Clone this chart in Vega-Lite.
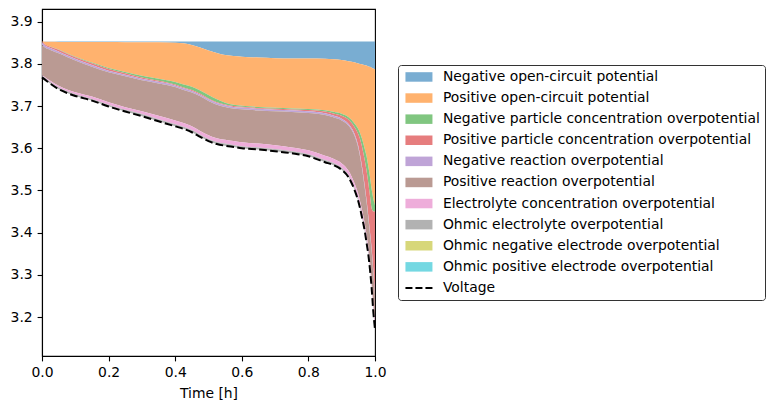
{
  "$schema": "https://vega.github.io/schema/vega-lite/v6.json",
  "description": "Voltage components over a discharge",
  "width": 333,
  "height": 347,
  "autosize": {"type": "none"},
  "padding": {"left": 42, "top": 9, "right": 400, "bottom": 53},
  "background": "white",
  "data": {
    "values": [
      {"t": 0, "b0": 3.853, "b1": 3.853, "b2": 3.853, "b3": 3.853, "b4": 3.851, "b5": 3.845, "b6": 3.773, "b7": 3.772, "v": 3.768},
      {"t": 0.01, "b0": 3.853, "b1": 3.8525, "b2": 3.846, "b3": 3.846, "b4": 3.843, "b5": 3.838, "b6": 3.768, "b7": 3.766, "v": 3.762},
      {"t": 0.025, "b0": 3.853, "b1": 3.8522, "b2": 3.841, "b3": 3.8407, "b4": 3.8377, "b5": 3.8332, "b6": 3.76, "b7": 3.757, "v": 3.753},
      {"t": 0.05, "b0": 3.853, "b1": 3.852, "b2": 3.834, "b3": 3.8335, "b4": 3.8295, "b5": 3.825, "b6": 3.748, "b7": 3.744, "v": 3.74},
      {"t": 0.075, "b0": 3.853, "b1": 3.852, "b2": 3.825, "b3": 3.8243, "b4": 3.8203, "b5": 3.8163, "b6": 3.7395, "b7": 3.735, "v": 3.731},
      {"t": 0.1, "b0": 3.853, "b1": 3.852, "b2": 3.817, "b3": 3.816, "b4": 3.812, "b5": 3.808, "b6": 3.733, "b7": 3.728, "v": 3.724},
      {"t": 0.15, "b0": 3.853, "b1": 3.852, "b2": 3.803, "b3": 3.8015, "b4": 3.7975, "b5": 3.7935, "b6": 3.7225, "b7": 3.717, "v": 3.713},
      {"t": 0.2, "b0": 3.853, "b1": 3.8518, "b2": 3.79, "b3": 3.788, "b4": 3.784, "b5": 3.78, "b6": 3.709, "b7": 3.703, "v": 3.699},
      {"t": 0.25, "b0": 3.853, "b1": 3.8515, "b2": 3.781, "b3": 3.778, "b4": 3.7745, "b5": 3.7705, "b6": 3.6975, "b7": 3.691, "v": 3.687},
      {"t": 0.3, "b0": 3.853, "b1": 3.8512, "b2": 3.772, "b3": 3.768, "b4": 3.765, "b5": 3.761, "b6": 3.688, "b7": 3.681, "v": 3.676},
      {"t": 0.35, "b0": 3.853, "b1": 3.851, "b2": 3.765, "b3": 3.76, "b4": 3.7575, "b5": 3.7535, "b6": 3.677, "b7": 3.669, "v": 3.664},
      {"t": 0.4, "b0": 3.853, "b1": 3.85, "b2": 3.757, "b3": 3.751, "b4": 3.749, "b5": 3.745, "b6": 3.666, "b7": 3.657, "v": 3.652},
      {"t": 0.425, "b0": 3.853, "b1": 3.849, "b2": 3.751, "b3": 3.744, "b4": 3.742, "b5": 3.738, "b6": 3.66, "b7": 3.651, "v": 3.646},
      {"t": 0.45, "b0": 3.853, "b1": 3.845, "b2": 3.746, "b3": 3.738, "b4": 3.736, "b5": 3.732, "b6": 3.652, "b7": 3.643, "v": 3.638},
      {"t": 0.475, "b0": 3.853, "b1": 3.839, "b2": 3.737, "b3": 3.729, "b4": 3.727, "b5": 3.723, "b6": 3.641, "b7": 3.632, "v": 3.627},
      {"t": 0.5, "b0": 3.853, "b1": 3.832, "b2": 3.726, "b3": 3.718, "b4": 3.716, "b5": 3.712, "b6": 3.631, "b7": 3.622, "v": 3.617},
      {"t": 0.525, "b0": 3.853, "b1": 3.826, "b2": 3.716, "b3": 3.709, "b4": 3.707, "b5": 3.703, "b6": 3.624, "b7": 3.615, "v": 3.61},
      {"t": 0.55, "b0": 3.853, "b1": 3.821, "b2": 3.708, "b3": 3.704, "b4": 3.702, "b5": 3.698, "b6": 3.62, "b7": 3.611, "v": 3.606},
      {"t": 0.575, "b0": 3.853, "b1": 3.8185, "b2": 3.703, "b3": 3.7, "b4": 3.698, "b5": 3.694, "b6": 3.617, "b7": 3.608, "v": 3.603},
      {"t": 0.6, "b0": 3.853, "b1": 3.817, "b2": 3.701, "b3": 3.6985, "b4": 3.6965, "b5": 3.6925, "b6": 3.614, "b7": 3.605, "v": 3.6},
      {"t": 0.65, "b0": 3.853, "b1": 3.815, "b2": 3.698, "b3": 3.6955, "b4": 3.6935, "b5": 3.6895, "b6": 3.611, "b7": 3.602, "v": 3.597},
      {"t": 0.7, "b0": 3.853, "b1": 3.8135, "b2": 3.696, "b3": 3.6935, "b4": 3.6915, "b5": 3.6875, "b6": 3.607, "b7": 3.598, "v": 3.593},
      {"t": 0.75, "b0": 3.853, "b1": 3.813, "b2": 3.6945, "b3": 3.692, "b4": 3.69, "b5": 3.686, "b6": 3.602, "b7": 3.593, "v": 3.588},
      {"t": 0.8, "b0": 3.853, "b1": 3.8125, "b2": 3.693, "b3": 3.6905, "b4": 3.6875, "b5": 3.6835, "b6": 3.595, "b7": 3.586, "v": 3.581},
      {"t": 0.85, "b0": 3.853, "b1": 3.812, "b2": 3.69, "b3": 3.687, "b4": 3.683, "b5": 3.679, "b6": 3.582, "b7": 3.572, "v": 3.567},
      {"t": 0.875, "b0": 3.853, "b1": 3.811, "b2": 3.6865, "b3": 3.6825, "b4": 3.6775, "b5": 3.6735, "b6": 3.575, "b7": 3.565, "v": 3.56},
      {"t": 0.9, "b0": 3.853, "b1": 3.809, "b2": 3.682, "b3": 3.677, "b4": 3.67, "b5": 3.666, "b6": 3.564, "b7": 3.554, "v": 3.549},
      {"t": 0.92, "b0": 3.853, "b1": 3.806, "b2": 3.674, "b3": 3.668, "b4": 3.658, "b5": 3.654, "b6": 3.5475, "b7": 3.537, "v": 3.532},
      {"t": 0.94, "b0": 3.853, "b1": 3.803, "b2": 3.657, "b3": 3.648, "b4": 3.631, "b5": 3.6265, "b6": 3.514, "b7": 3.503, "v": 3.498},
      {"t": 0.95, "b0": 3.853, "b1": 3.801, "b2": 3.645, "b3": 3.633, "b4": 3.605, "b5": 3.6, "b6": 3.491, "b7": 3.48, "v": 3.474},
      {"t": 0.96, "b0": 3.853, "b1": 3.799, "b2": 3.625, "b3": 3.607, "b4": 3.562, "b5": 3.557, "b6": 3.4575, "b7": 3.446, "v": 3.44},
      {"t": 0.97, "b0": 3.853, "b1": 3.797, "b2": 3.596, "b3": 3.568, "b4": 3.506, "b5": 3.501, "b6": 3.418, "b7": 3.406, "v": 3.4},
      {"t": 0.975, "b0": 3.853, "b1": 3.796, "b2": 3.58, "b3": 3.545, "b4": 3.475, "b5": 3.47, "b6": 3.392, "b7": 3.38, "v": 3.374},
      {"t": 0.98, "b0": 3.853, "b1": 3.794, "b2": 3.557, "b3": 3.517, "b4": 3.439, "b5": 3.433, "b6": 3.366, "b7": 3.354, "v": 3.348},
      {"t": 0.985, "b0": 3.853, "b1": 3.793, "b2": 3.531, "b3": 3.486, "b4": 3.401, "b5": 3.395, "b6": 3.33, "b7": 3.318, "v": 3.312},
      {"t": 0.99, "b0": 3.853, "b1": 3.791, "b2": 3.502, "b3": 3.457, "b4": 3.362, "b5": 3.356, "b6": 3.286, "b7": 3.274, "v": 3.268},
      {"t": 0.995, "b0": 3.853, "b1": 3.789, "b2": 3.48, "b3": 3.45, "b4": 3.31, "b5": 3.304, "b6": 3.23, "b7": 3.218, "v": 3.212},
      {"t": 1.0, "b0": 3.853, "b1": 3.787, "b2": 3.465, "b3": 3.45, "b4": 3.255, "b5": 3.249, "b6": 3.189, "b7": 3.177, "v": 3.171}
    ]
  },
  "encoding": {
    "x": {
      "field": "t",
      "type": "quantitative",
      "title": "Time [h]",
      "scale": {"domain": [0, 1], "nice": false, "zero": false},
      "axis": {"values": [0, 0.2, 0.4, 0.6, 0.8, 1.0], "format": ".1f"}
    }
  },
  "layer": [
    {
      "mark": {"type": "area", "interpolate": "monotone"},
      "encoding": {
        "y": {
          "field": "b1",
          "type": "quantitative",
          "title": null,
          "scale": {"domain": [3.1076, 3.9301], "nice": false, "zero": false},
          "axis": {"values": [3.2, 3.3, 3.4, 3.5, 3.6, 3.7, 3.8, 3.9], "format": ".1f"}
        },
        "y2": {"field": "b0"},
        "color": {
          "datum": "Negative open-circuit potential",
          "type": "nominal",
          "scale": {
            "domain": [
              "Negative open-circuit potential",
              "Positive open-circuit potential",
              "Negative particle concentration overpotential",
              "Positive particle concentration overpotential",
              "Negative reaction overpotential",
              "Positive reaction overpotential",
              "Electrolyte concentration overpotential",
              "Ohmic electrolyte overpotential",
              "Ohmic negative electrode overpotential",
              "Ohmic positive electrode overpotential",
              "Voltage"
            ],
            "range": ["#79add2", "#ffb26e", "#80c680", "#e67d7e", "#bfa4d7", "#ba9a93", "#eeadda", "#b2b2b2", "#d7d77a", "#74d8e2", "#000000"]
          },
          "legend": {
            "orient": "none",
            "legendX": 356,
            "legendY": 56,
            "direction": "vertical",
            "title": null,
            "symbolSize": 100,
            "symbolStrokeWidth": 0,
            "labelOffset": 26,
            "rowPadding": 6.1,
            "padding": 5,
            "encode": {
              "symbols": {
                "update": {
                  "shape": {"signal": "datum.value === 'Voltage' ? 'M-0.9,-0.2h1.4v0.4h-1.4zM1.1,-0.2h1.4v0.4h-1.4zM3.1,-0.2h1.4v0.4h-1.4z' : 'M-0.9,-0.95h5.4v1.9h-5.4z'"},
                  "fill": {"scale": "color", "field": "value"},
                  "opacity": {"value": 1}
                }
              }
            }
          }
        }
      }
    },
    {
      "mark": {"type": "area", "interpolate": "monotone"},
      "encoding": {"y": {"field": "b2", "type": "quantitative", "title": null}, "y2": {"field": "b1"}, "color": {"datum": "Positive open-circuit potential", "type": "nominal"}}
    },
    {
      "mark": {"type": "area", "interpolate": "monotone"},
      "encoding": {"y": {"field": "b3", "type": "quantitative", "title": null}, "y2": {"field": "b2"}, "color": {"datum": "Negative particle concentration overpotential", "type": "nominal"}}
    },
    {
      "mark": {"type": "area", "interpolate": "monotone"},
      "encoding": {"y": {"field": "b4", "type": "quantitative", "title": null}, "y2": {"field": "b3"}, "color": {"datum": "Positive particle concentration overpotential", "type": "nominal"}}
    },
    {
      "mark": {"type": "area", "interpolate": "monotone"},
      "encoding": {"y": {"field": "b5", "type": "quantitative", "title": null}, "y2": {"field": "b4"}, "color": {"datum": "Negative reaction overpotential", "type": "nominal"}}
    },
    {
      "mark": {"type": "area", "interpolate": "monotone"},
      "encoding": {"y": {"field": "b6", "type": "quantitative", "title": null}, "y2": {"field": "b5"}, "color": {"datum": "Positive reaction overpotential", "type": "nominal"}}
    },
    {
      "mark": {"type": "area", "interpolate": "monotone"},
      "encoding": {"y": {"field": "b7", "type": "quantitative", "title": null}, "y2": {"field": "b6"}, "color": {"datum": "Electrolyte concentration overpotential", "type": "nominal"}}
    },
    {
      "mark": {"type": "area", "interpolate": "monotone"},
      "encoding": {"y": {"field": "v", "type": "quantitative", "title": null}, "y2": {"field": "b7"}, "color": {"datum": "Ohmic electrolyte overpotential", "type": "nominal"}}
    },
    {
      "mark": {"type": "line", "color": "black", "strokeWidth": 2, "strokeDash": [7.7, 3.3], "interpolate": "monotone"},
      "encoding": {"y": {"field": "v", "type": "quantitative", "title": null}}
    }
  ],
  "config": {
    "font": "DejaVu Sans",
    "view": {"stroke": "black", "strokeWidth": 1.1},
    "axis": {
      "grid": false,
      "domainColor": "black",
      "domainWidth": 1.1,
      "tickColor": "black",
      "tickWidth": 1.1,
      "tickSize": 4.9,
      "labelFont": "DejaVu Sans",
      "labelFontSize": 13.9,
      "labelColor": "black",
      "labelPadding": 4.9,
      "labelFlush": false,
      "labelOverlap": false,
      "labelBound": false,
      "titleFont": "DejaVu Sans",
      "titleFontSize": 13.9,
      "titleFontWeight": "normal",
      "titleColor": "black",
      "titlePadding": 7
    },
    "legend": {
      "labelFont": "DejaVu Sans",
      "labelFontSize": 13.9,
      "labelColor": "black",
      "labelLimit": 400,
      "strokeColor": "#333333",
      "strokeWidth": 1,
      "fillColor": "white",
      "cornerRadius": 3
    }
  }
}
